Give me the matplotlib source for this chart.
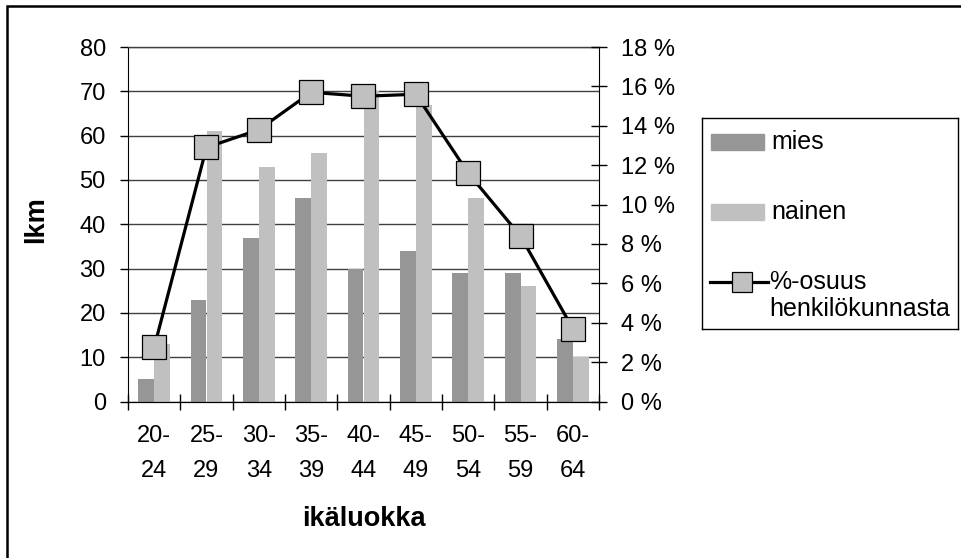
import numpy as np
import matplotlib.pyplot as plt
from matplotlib.patches import Rectangle
from matplotlib.lines import Line2D
from matplotlib.ticker import FixedLocator

plt.rcParams['font.family'] = ['Liberation Sans', 'DejaVu Sans']

# Aineisto
ikaluokat = ["20-\n24", "25-\n29", "30-\n34", "35-\n39", "40-\n44",
             "45-\n49", "50-\n54", "55-\n59", "60-\n64"]
mies = [5, 23, 37, 46, 30, 34, 29, 29, 14]
nainen = [13, 61, 53, 56, 70, 67, 46, 26, 10]
osuus = [2.75, 12.9, 13.8, 15.7, 15.5, 15.6, 11.6, 8.4, 3.7]  # %
lkm_ticks = list(range(0, 81, 10))
osuus_ticks = list(range(0, 19, 2))

W, H = 962, 558
fs = 17      # akselien numerot
fs_lg = 18    # selite
fs_b = 19.5   # akselien otsikot

fig = plt.figure(figsize=(W / 100, H / 100), dpi=100)


def px(x0, y0, x1, y1):
    # pikselialue -> figuurin koordinaatit
    return [x0 / W, 1 - y1 / H, (x1 - x0) / W, (y1 - y0) / H]


ax = fig.add_axes(px(128, 47, 599, 401.5))
x = np.arange(len(ikaluokat))
ax.bar(x - 0.15, mies, 0.3, color='#969696', zorder=2)
ax.bar(x + 0.15, nainen, 0.3, color='#c0c0c0', zorder=2)
ax.set_xlim(-0.5, len(ikaluokat) - 0.5)
ax.set_ylim(0, 80)
ax.set_yticks(lkm_ticks)
ax.yaxis.grid(True, color='#404040', lw=1.0, zorder=0)
ax.set_axisbelow(True)
ax.spines['top'].set_color('#404040')
ax.spines['top'].set_linewidth(1.0)
ax.spines['right'].set_visible(False)
ax.tick_params(axis='y', direction='out', length=6, width=1, pad=10, labelsize=fs)

# x-akseli: viivat luokkien rajoilla, nimet keskellä
ax.xaxis.set_major_locator(FixedLocator(np.arange(-0.5, len(ikaluokat), 1.0)))
ax.xaxis.set_major_formatter(plt.NullFormatter())
ax.xaxis.set_minor_locator(FixedLocator(x))
ax.set_xticklabels(ikaluokat, minor=True, fontsize=fs, linespacing=1.75)
ax.tick_params(axis='x', which='major', direction='inout', length=11.5, width=1)
ax.tick_params(axis='x', which='minor', length=0, pad=17)

ax2 = ax.twinx()
ax2.plot(x, osuus, color='black', lw=2.3, marker='s', ms=17,
         mfc='#c0c0c0', mec='black', mew=0.9, zorder=3)
ax2.set_ylim(0, 18)
ax2.set_yticks(osuus_ticks)
ax2.set_yticklabels([f"{v} %" for v in osuus_ticks])
ax2.spines['top'].set_visible(False)
ax2.spines['left'].set_visible(False)
ax2.tick_params(axis='y', direction='inout', length=11, width=1, pad=10, labelsize=fs)

fig.text(36 / W, 1 - 220 / H, 'lkm', rotation=90, ha='center', va='center',
         fontsize=fs_b, fontweight='bold')
fig.text(364 / W, 1 - 519 / H, 'ikäluokka', ha='center', va='center',
         fontsize=fs_b, fontweight='bold')

# Selite
lg = fig.add_axes(px(702, 118, 958, 329))
lg.set_xlim(0, 256)
lg.set_ylim(211, 0)
lg.set_xticks([])
lg.set_yticks([])
for s in lg.spines.values():
    s.set_linewidth(1.0)
lg.add_patch(Rectangle((9, 24 - 8), 53, 16, color='#969696'))
lg.text(69, 24, 'mies', va='center', fontsize=fs_lg)
lg.add_patch(Rectangle((9, 94 - 8), 53, 16, color='#c0c0c0'))
lg.text(69, 94, 'nainen', va='center', fontsize=fs_lg)
lg.add_line(Line2D([8, 66], [164, 164], color='black', lw=2.3, zorder=2))
lg.add_line(Line2D([40], [164], ls='none', marker='s', ms=15,
                   mfc='#c0c0c0', mec='black', mew=0.9, zorder=3))
lg.text(67, 164, '%-osuus', va='center', fontsize=fs_lg)
lg.text(67, 191, 'henkilökunnasta', va='center', fontsize=fs_lg)

# Ulkokehys
fig.add_artist(Rectangle((7 / W, -0.2), 2, 1.2 - 6 / H, transform=fig.transFigure,
                         fill=False, lw=1.8, ec='black'))

fig.savefig('out.png', dpi=100)
